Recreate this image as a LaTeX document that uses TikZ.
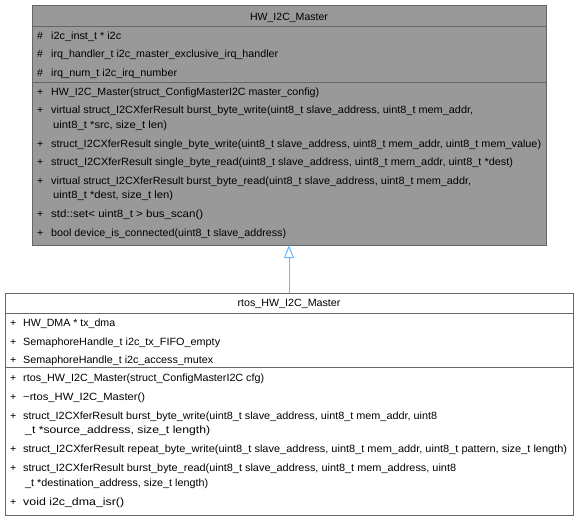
\documentclass[tikz,border=0pt]{standalone}
\usepackage{fontspec}
\setmainfont{Liberation Sans}
\usetikzlibrary{arrows.meta}
\definecolor{boxborder}{HTML}{666666}
\definecolor{boxfill}{HTML}{999999}
\definecolor{edgeblue}{HTML}{63B8FF}
\newlength\natwd
\newcommand\fitw[2]{\settowidth\natwd{#2}\scalebox{\fpeval{(#1pt)/(\natwd)}}[1]{#2}}
\tikzset{
  mbr/.style={anchor=base west, inner sep=0pt, font=\fontsize{10.5}{12}\selectfont},
  ttl/.style={anchor=base, inner sep=0pt, font=\fontsize{10.5}{12}\selectfont},
  classbox/.style={draw=boxborder, line width=1pt},
  sepline/.style={draw=boxborder, line width=0.8pt},
  inherit/.style={draw=edgeblue, line width=1pt, -{Triangle[open, length=13pt, width=10pt, fill=white]}}
}
\begin{document}
\begin{tikzpicture}[x=1pt,y=-1pt]
\useasboundingbox (0,0) rectangle (579,520);
\fill[white] (0,0) rectangle (579,520);
% ---------- top class ----------
\draw[classbox, fill=boxfill] (32,5) rectangle (546,245);
\coordinate (topS) at (289,245);
\draw[sepline] (32,26) -- (546,26);
\draw[sepline] (32,82) -- (546,82);
\node[ttl] (t0) at (289,20) {\fitw{78}{HW\_I2C\_Master}};
\def\ys{3.6}
\node[mbr] (ta1s) at (37,35.5+\ys) {\#};
\node[mbr] (ta1) at (51,35.5+\ys) {\fitw{70}{i2c\_inst\_t * i2c}};
\node[mbr] (ta2s) at (37,54+\ys) {\#};
\node[mbr] (ta2) at (51,54+\ys) {\fitw{227}{irq\_handler\_t i2c\_master\_exclusive\_irq\_handler}};
\node[mbr] (ta3s) at (37,72.5+\ys) {\#};
\node[mbr] (ta3) at (51,72.5+\ys) {\fitw{126}{irq\_num\_t i2c\_irq\_number}};
\node[mbr] (tm1s) at (37,91.5+\ys) {+};
\node[mbr] (tm1) at (51,91.5+\ys) {\fitw{268}{HW\_I2C\_Master(struct\_ConfigMasterI2C master\_config)}};
\node[mbr] (tm2s) at (37,110+\ys) {+};
\node[mbr] (tm2) at (51,110+\ys) {\fitw{422}{virtual struct\_I2CXferResult burst\_byte\_write(uint8\_t slave\_address, uint8\_t mem\_addr,}};
\node[mbr] (tm2b) at (53,124.5+\ys) {\fitw{114}{uint8\_t *src, size\_t len)}};
\node[mbr] (tm3s) at (37,143.5+\ys) {+};
\node[mbr] (tm3) at (51,143.5+\ys) {\fitw{490}{struct\_I2CXferResult single\_byte\_write(uint8\_t slave\_address, uint8\_t mem\_addr, uint8\_t mem\_value)}};
\node[mbr] (tm4s) at (37,162+\ys) {+};
\node[mbr] (tm4) at (51,162+\ys) {\fitw{462}{struct\_I2CXferResult single\_byte\_read(uint8\_t slave\_address, uint8\_t mem\_addr, uint8\_t *dest)}};
\node[mbr] (tm5s) at (37,180.5+\ys) {+};
\node[mbr] (tm5) at (51,180.5+\ys) {\fitw{420}{virtual struct\_I2CXferResult burst\_byte\_read(uint8\_t slave\_address, uint8\_t mem\_addr,}};
\node[mbr] (tm5b) at (53,195+\ys) {\fitw{120}{uint8\_t *dest, size\_t len)}};
\node[mbr] (tm6s) at (37,214+\ys) {+};
\node[mbr] (tm6) at (51,214+\ys) {\fitw{152}{std::set< uint8\_t > bus\_scan()}};
\node[mbr] (tm7s) at (37,232.5+\ys) {+};
\node[mbr] (tm7) at (51,232.5+\ys) {\fitw{235}{bool device\_is\_connected(uint8\_t slave\_address)}};
% ---------- bottom class ----------
\draw[classbox, fill=white] (5,293) rectangle (573,515);
\coordinate (botN) at (289,293);
\draw[sepline] (5,313) -- (573,313);
\draw[sepline] (5,367) -- (573,367);
\node[ttl] (b0) at (289,303+\ys) {\fitw{103}{rtos\_HW\_I2C\_Master}};
\node[mbr] (ba1s) at (10,323+\ys) {+};
\node[mbr] (ba1) at (23,323+\ys) {\fitw{92}{HW\_DMA * tx\_dma}};
\node[mbr] (ba2s) at (10,341.5+\ys) {+};
\node[mbr] (ba2) at (23,341.5+\ys) {\fitw{197}{SemaphoreHandle\_t i2c\_tx\_FIFO\_empty}};
\node[mbr] (ba3s) at (10,360+\ys) {+};
\node[mbr] (ba3) at (23,360+\ys) {\fitw{190}{SemaphoreHandle\_t i2c\_access\_mutex}};
\node[mbr] (bm1s) at (10,378+\ys) {+};
\node[mbr] (bm1) at (23,378+\ys) {\fitw{241}{rtos\_HW\_I2C\_Master(struct\_ConfigMasterI2C cfg)}};
\node[mbr] (bm2s) at (10,396.5+\ys) {+};
\node[mbr] (bm2) at (23,396.5+\ys) {\fitw{122}{\textasciitilde rtos\_HW\_I2C\_Master()}};
\node[mbr] (bm3s) at (10,415.5+\ys) {+};
\node[mbr] (bm3) at (23,415.5+\ys) {\fitw{414}{struct\_I2CXferResult burst\_byte\_write(uint8\_t slave\_address, uint8\_t mem\_addr, uint8}};
\node[mbr] (bm3b) at (25,430+\ys) {\fitw{185}{\_t *source\_address, size\_t length)}};
\node[mbr] (bm4s) at (10,449+\ys) {+};
\node[mbr] (bm4) at (23,449+\ys) {\fitw{544}{struct\_I2CXferResult repeat\_byte\_write(uint8\_t slave\_address, uint8\_t mem\_addr, uint8\_t pattern, size\_t length)}};
\node[mbr] (bm5s) at (10,468+\ys) {+};
\node[mbr] (bm5) at (23,468+\ys) {\fitw{433}{struct\_I2CXferResult burst\_byte\_read(uint8\_t slave\_address, uint8\_t mem\_address, uint8}};
\node[mbr] (bm5b) at (25,482.5+\ys) {\fitw{183}{\_t *destination\_address, size\_t length)}};
\node[mbr] (bm6s) at (10,501.5+\ys) {+};
\node[mbr] (bm6) at (23,501.5+\ys) {\fitw{101}{void i2c\_dma\_isr()}};
% ---------- inheritance ----------
\draw[inherit] (botN) -- (topS);
\end{tikzpicture}
\end{document}
